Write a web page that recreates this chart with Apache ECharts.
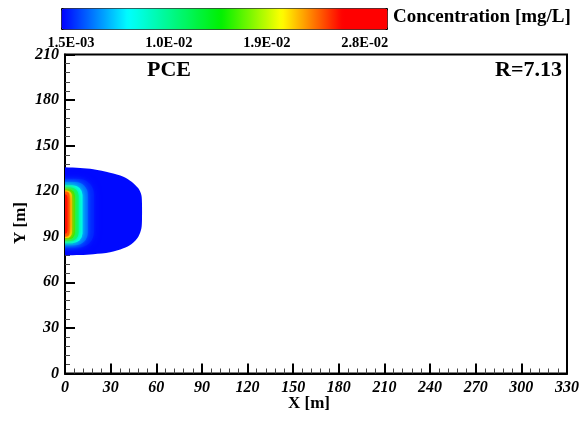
<!DOCTYPE html>
<html>
<head>
<meta charset="utf-8">
<script src="https://cdn.jsdelivr.net/npm/echarts@6/dist/echarts.min.js"></script>
<style>html,body{margin:0;padding:0;background:#fff}#c{width:585px;height:421px}</style>
</head>
<body>
<div id="c"></div>
<script>
// ---- data ----
const xTicks = [0, 30, 60, 90, 120, 150, 180, 210, 240, 270, 300, 330];
const yTicks = [0, 30, 60, 90, 120, 150, 180, 210];
const cbMin = 0.0006, cbMax = 0.0299;
const cbTicks = [0.0015, 0.0103, 0.0191, 0.0279];
const cbLabels = ['1.5E-03', '1.0E-02', '1.9E-02', '2.8E-02'];

// outer plume boundary (lowest contour), data units
const outerX = [-2, 0, 10, 18.6, 29.6, 38.4, 43.8, 48.2, 50.2, 50.6, 50.6, 50.2, 48.2, 43.8, 38.4, 29.6, 18.6, 10, 0, -2];
const outerY = [135.7, 135.7, 135.2, 134.4, 132.2, 129.6, 126.3, 121.9, 117.5, 112, 101, 95.5, 90.1, 85.3, 82.4, 79.8, 78.5, 78, 77.8, 77.8];

// contour levels: concentration [mg/L] and extents of each inner contour
const contourValues  = [0.0008, 0.0014, 0.0030, 0.0065, 0.0103, 0.0150, 0.0202, 0.0235, 0.0255];
const contourXRight  = [null, 19, 15, 11.5, 9, 6.5, 4.5, 3, 1.6];
const contourYBottom = [null, 83, 84.5, 85.8, 87.2, 88.3, 89.2, 90, 92];
const contourYTop    = [null, 128, 126, 124, 122.5, 121.3, 120.5, 119.8, 118];

// ---- colour scale (style) ----
const stops = [[0, [0, 0, 255]], [0.205, [0, 255, 255]], [0.49, [0, 240, 0]], [0.675, [255, 255, 0]], [0.86, [255, 0, 0]], [1, [255, 0, 0]]];
function colAt(t) {
  for (let k = 1; k < stops.length; k++) {
    if (t <= stops[k][0]) {
      const a = stops[k - 1], b = stops[k];
      const u = (t - a[0]) / (b[0] - a[0]);
      const c = a[1].map((v, j) => Math.round(v + (b[1][j] - v) * u));
      return 'rgb(' + c.join(',') + ')';
    }
  }
  return 'rgb(255,0,0)';
}
const palette = [];
for (let k = 0; k <= 80; k++) palette.push(colAt(k / 80));

const serif = 'Liberation Serif, Times New Roman, serif';
const chart = echarts.init(document.getElementById('c'), null, {renderer: 'canvas'});

const option = {
  backgroundColor: '#fff',
  animation: false,
  title: [
    {text: 'PCE', left: 147, top: 59, padding: 0, textStyle: {fontFamily: serif, fontWeight: 'bold', fontSize: 22, color: '#000'}},
    {text: 'R=7.13', right: 23, top: 59, padding: 0, textStyle: {fontFamily: serif, fontWeight: 'bold', fontSize: 22, color: '#000'}},
    {text: 'Concentration [mg/L]', left: 393, top: 8, padding: 0, textStyle: {fontFamily: serif, fontWeight: 'bold', fontSize: 19, color: '#000'}}
  ],
  graphic: [
    {type: 'text', left: 12, top: 202, rotation: Math.PI / 2,
      style: {text: 'Y [m]', fontFamily: serif, fontWeight: 'bold', fontSize: 17, fill: '#000'}},
    {type: 'text', left: 288, top: 395,
      style: {text: 'X [m]', fontFamily: serif, fontWeight: 'bold', fontSize: 17, fill: '#000'}}
  ],
  visualMap: {
    type: 'continuous', min: cbMin, max: cbMax, orient: 'horizontal',
    left: 61, top: 8, itemWidth: 21, itemHeight: 326, calculable: false,
    padding: 0, borderColor: '#000', borderWidth: 1, hoverLink: false,
    seriesIndex: 0, dimension: 1, inRange: {color: palette}, textStyle: {color: 'transparent'}
  },
  grid: [
    {left: 65, top: 54.5, width: 502, height: 319, show: true, borderColor: '#000', borderWidth: 2, backgroundColor: 'transparent'},
    {left: 61, top: 29, width: 326, height: 1, show: false}
  ],
  xAxis: [
    {type: 'value', gridIndex: 0, min: xTicks[0], max: xTicks[xTicks.length - 1], interval: 30,
      axisLine: {show: true, lineStyle: {color: '#000', width: 2}},
      axisTick: {show: true, inside: true, length: 10, lineStyle: {color: '#000', width: 2}},
      minorTick: {show: true, splitNumber: 5, length: 5, lineStyle: {color: '#444', width: 1}},
      splitLine: {show: false},
      axisLabel: {fontFamily: serif, fontWeight: 'bold', fontStyle: 'italic', fontSize: 16, color: '#000', margin: 6}},
    {type: 'value', gridIndex: 1, min: cbMin, max: cbMax,
      axisLine: {show: false}, axisTick: {show: false}, splitLine: {show: false},
      axisLabel: {customValues: cbTicks, margin: 6,
        formatter: function (v) { let k = 0, d = Infinity; cbTicks.forEach((t, j) => { if (Math.abs(t - v) < d) { d = Math.abs(t - v); k = j; } }); return cbLabels[k]; },
        fontFamily: serif, fontWeight: 'bold', fontSize: 14.5, color: '#000'}}
  ],
  yAxis: [
    {type: 'value', gridIndex: 0, min: yTicks[0], max: yTicks[yTicks.length - 1], interval: 30,
      axisLine: {show: true, lineStyle: {color: '#000', width: 2}},
      axisTick: {show: true, inside: true, length: 10, lineStyle: {color: '#000', width: 2}},
      minorTick: {show: true, splitNumber: 5, length: 5, lineStyle: {color: '#444', width: 1}},
      splitLine: {show: false},
      axisLabel: {fontFamily: serif, fontWeight: 'bold', fontStyle: 'italic', fontSize: 16, color: '#000', margin: 6}},
    {type: 'value', gridIndex: 1, show: false}
  ],
  series: [{
    type: 'custom', coordinateSystem: 'cartesian2d', xAxisIndex: 0, yAxisIndex: 0, clip: true, silent: true,
    z: 1,
    data: contourValues.map((v, i) => [i, v]),
    renderItem: function (params, api) {
      const i = params.dataIndex;
      const color = api.visual('color');
      if (i === 0) {
        const pts = outerX.map((x, k) => api.coord([x, outerY[k]]));
        return {type: 'polygon', shape: {points: pts, smooth: 0.3}, style: {fill: color}};
      }
      const p0 = api.coord([-3, contourYTop[i]]);
      const p1 = api.coord([contourXRight[i], contourYBottom[i]]);
      const w = p1[0] - p0[0], h = p1[1] - p0[1];
      const r = Math.min(w * 0.45, h / 2);
      return {type: 'rect', shape: {x: p0[0], y: p0[1], width: w, height: h, r: [0, r, r, 0]},
        style: {fill: color, shadowBlur: 7, shadowColor: color}};
    }
  }]
};
chart.setOption(option);
</script>
</body>
</html>
